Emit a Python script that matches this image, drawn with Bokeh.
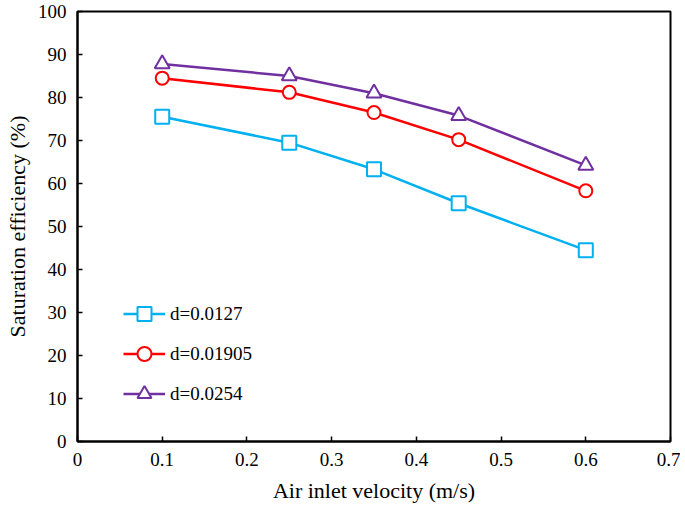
from bokeh.plotting import figure
from bokeh.embed import file_html
from bokeh.resources import INLINE
from bokeh.models import FixedTicker, Range1d

velocity = [0.1, 0.25, 0.35, 0.45, 0.6]
eff_0127 = [75.5, 69.5, 63.3, 55.4, 44.5]
eff_01905 = [84.5, 81.2, 76.5, 70.2, 58.3]
eff_0254 = [87.8, 85.0, 81.0, 75.8, 64.2]
series_labels = ["d=0.0127", "d=0.01905", "d=0.0254"]
x_ticks = [0, 0.1, 0.2, 0.3, 0.4, 0.5, 0.6, 0.7]
x_tick_labels = ["0", "0.1", "0.2", "0.3", "0.4", "0.5", "0.6", "0.7"]
y_ticks = [0, 10, 20, 30, 40, 50, 60, 70, 80, 90, 100]

FONT = "Liberation Serif"

p = figure(width=680, height=505, output_backend="svg", toolbar_location=None,
           x_range=Range1d(0, 0.7), y_range=Range1d(0, 100),
           min_border_left=77, min_border_right=10, min_border_top=11, min_border_bottom=64)
p.xgrid.visible = False
p.ygrid.visible = False
p.outline_line_color = "black"
p.outline_line_width = 2
p.background_fill_color = "white"
p.border_fill_color = "white"

p.xaxis.ticker = FixedTicker(ticks=x_ticks)
p.xaxis.major_label_overrides = {t: l for t, l in zip(x_ticks, x_tick_labels)}
p.yaxis.ticker = FixedTicker(ticks=y_ticks)

for ax in (p.xaxis[0], p.yaxis[0]):
    ax.axis_line_color = "black"
    ax.axis_line_width = 2
    ax.major_tick_in = 5
    ax.major_tick_out = 0
    ax.minor_tick_line_color = None
    ax.major_tick_line_color = "black"
    ax.major_tick_line_width = 1.5
    ax.major_label_text_font = FONT
    ax.major_label_text_font_size = "19px"
    ax.major_label_text_color = "black"
    ax.axis_label_text_font = FONT
    ax.axis_label_text_font_size = "22px"
    ax.axis_label_text_font_style = "normal"
    ax.axis_label_text_color = "black"

p.xaxis.axis_label = "Air inlet velocity (m/s)"
p.yaxis.axis_label = "Saturation efficiency (%)"
p.xaxis.major_label_standoff = 11
p.yaxis.major_label_standoff = 11
p.xaxis.axis_label_standoff = 9
p.yaxis.axis_label_standoff = 5

colors = ["#00B0F0", "#FF0000", "#7030A0"]
markers = ["square", "circle", "triangle"]
sizes = [14, 13, 15]
for ys, lab, c, m, s in zip([eff_0127, eff_01905, eff_0254], series_labels, colors, markers, sizes):
    p.line(velocity, ys, line_color=c, line_width=2.5, legend_label=lab)
    p.scatter(velocity, ys, marker=m, size=s, line_color=c, line_width=2,
              fill_color="white", legend_label=lab)

lg = p.legend[0]
lg.location = (46, 30)
lg.border_line_color = None
lg.background_fill_alpha = 0
lg.label_text_font = FONT
lg.label_text_font_size = "19px"
lg.label_text_color = "black"
lg.glyph_width = 42
lg.glyph_height = 35
lg.label_height = 35
lg.spacing = 5
lg.padding = 0
lg.margin = 0
lg.label_standoff = 5

open("out.html", "w").write(file_html(p, INLINE))
